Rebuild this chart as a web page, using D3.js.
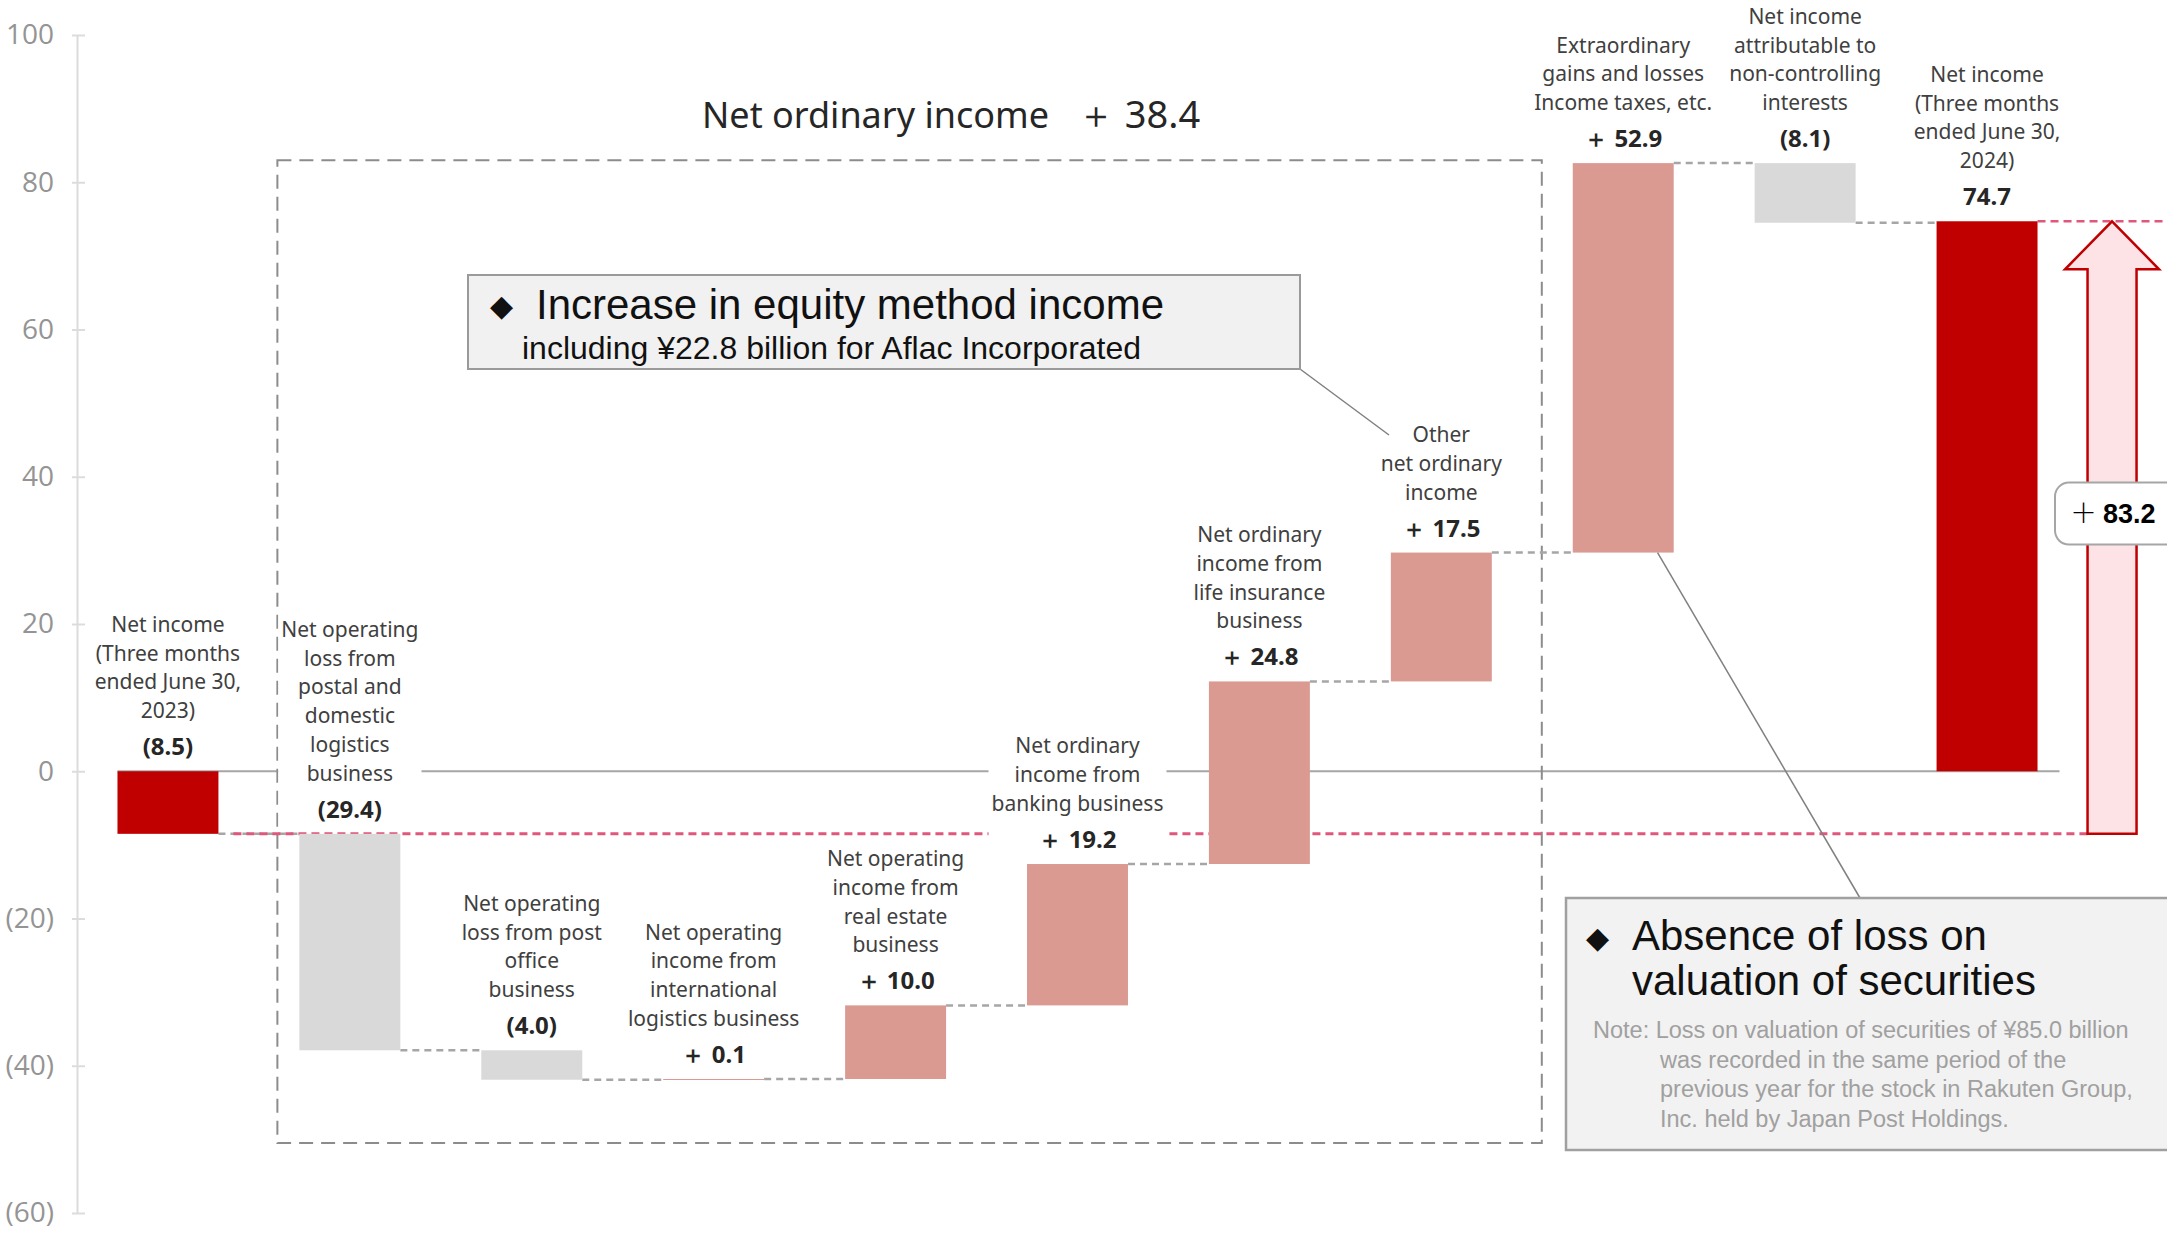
<!DOCTYPE html>
<html><head><meta charset="utf-8">
<script src="https://cdn.jsdelivr.net/npm/d3@7"></script>
<style>body{margin:0;background:#fff}svg{display:block}</style>
</head><body>
<svg id="chart" width="2167" height="1234"></svg>
<script>
// ---------- data ----------
const categories = ["NI2023","Postal","PostOffice","Intl","RealEstate","Banking","Life","Other","Extra","NCI","NI2024"];
const labelLines = [
  ["Net income","(Three months","ended June 30,","2023)"],
  ["Net operating","loss from","postal and","domestic","logistics","business"],
  ["Net operating","loss from post","office","business"],
  ["Net operating","income from","international","logistics business"],
  ["Net operating","income from","real estate","business"],
  ["Net ordinary","income from","banking business"],
  ["Net ordinary","income from","life insurance","business"],
  ["Other","net ordinary","income"],
  ["Extraordinary","gains and losses","Income taxes, etc."],
  ["Net income","attributable to","non-controlling","interests"],
  ["Net income","(Three months","ended June 30,","2024)"]
];
const values = [-8.5, -29.4, -4.0, 0.1, 10.0, 19.2, 24.8, 17.5, 52.9, -8.1, 74.7];
const barTypes = ["total","decrease","decrease","increase","increase","increase","increase","increase","increase","decrease","total"];
const valueLabels = ["(8.5)","(29.4)","(4.0)","＋ 0.1","＋ 10.0","＋ 19.2","＋ 24.8","＋ 17.5","＋ 52.9","(8.1)","74.7"];
const yTicks = [100, 80, 60, 40, 20, 0, -20, -40, -60];
const yTickLabels = ["100","80","60","40","20","0","(20)","(40)","(60)"];
const ordinaryTitle = "Net ordinary income";
const ordinaryValue = "＋ 38.4";
const totalChangeSign = "＋";
const totalChangeValue = "83.2";
const callout1 = ["Increase in equity method income", "including ¥22.8 billion for Aflac Incorporated"];
const callout2Title = ["Absence of loss on", "valuation of securities"];
const callout2Note = ["Note: Loss on valuation of securities of ¥85.0 billion",
  "was recorded in the same period of the",
  "previous year for the stock in Rakuten Group,",
  "Inc. held by Japan Post Holdings."];

// ---------- setup ----------
const svg = d3.select("#chart");
const W = 2167, H = 1234;
const y = d3.scaleLinear().domain([-60, 100]).range([1213, 35]);
const x = d3.scaleBand().domain(categories).range([77, 2078]).paddingInner(0.445).paddingOuter(0.2225);
const bw = x.bandwidth();
const colors = {total: "#C00000", decrease: "#D9D9D9", increase: "#DA9A92"};

// waterfall computation
let run = 0;
const bars = categories.map((c, i) => {
  let y0, y1;
  if (barTypes[i] === "total") { y0 = 0; y1 = values[i]; }
  else { y0 = run; y1 = run + values[i]; }
  run = y1;
  return {c, i, y0, y1, end: y1, type: barTypes[i]};
});

// ---------- axis ----------
const axis = d3.axisLeft(y).tickValues(yTicks).tickFormat((d, i) => yTickLabels[i]).tickSizeOuter(0).tickPadding(17);
const gAxis = svg.append("g").attr("transform", "translate(77,0)").call(axis);
gAxis.select(".domain").attr("stroke", "#DCDCDC").attr("stroke-width", 2);
gAxis.selectAll(".tick line").attr("x1", -5).attr("x2", 8).attr("stroke", "#DCDCDC").attr("stroke-width", 2);
gAxis.selectAll(".tick text").attr("fill", "#949494").style("font-family", "'Open Sans', sans-serif").style("font-size", "28px");

// ---------- zero line ----------
const lastBar = categories[categories.length - 1];
svg.append("line")
  .attr("x1", x(categories[0])).attr("x2", x(lastBar) + bw + 22)
  .attr("y1", y(0)).attr("y2", y(0))
  .attr("stroke", "#A6A6A6").attr("stroke-width", 2);

// ---------- big dashed box (net ordinary income) ----------
const boxL = x(categories[1]) - 22, boxR = x(categories[7]) + bw + 50;
svg.append("rect")
  .attr("x", boxL).attr("y", y(83)).attr("width", boxR - boxL).attr("height", y(-50.5) - y(83))
  .attr("fill", "none").attr("stroke", "#8C8C8C").attr("stroke-width", 2).attr("stroke-dasharray", "14,8");

// ---------- connectors ----------
svg.append("g").selectAll("line").data(bars.slice(0, -1)).join("line")
  .attr("x1", d => x(d.c) + bw).attr("x2", d => x(categories[d.i + 1]))
  .attr("y1", d => y(d.end)).attr("y2", d => y(d.end))
  .attr("stroke", "#A6A6A6").attr("stroke-width", 2.5).attr("stroke-dasharray", "7,5");

// ---------- arrow geometry ----------
const startVal = values[0], endVal = values[values.length - 1];
const ax = x(lastBar) + bw / 2 + 125;
const aTop = y(endVal), aBot = y(startVal);

// red dashed reference lines
svg.append("line").attr("x1", x(categories[0]) + bw + 15).attr("x2", ax - 24)
  .attr("y1", y(startVal)).attr("y2", y(startVal))
  .attr("stroke", "#E0577C").attr("stroke-width", 3).attr("stroke-dasharray", "8,5");
svg.append("line").attr("x1", x(lastBar) + bw).attr("x2", W)
  .attr("y1", y(endVal)).attr("y2", y(endVal))
  .attr("stroke", "#E0577C").attr("stroke-width", 2.5).attr("stroke-dasharray", "8,5");

// ---------- bars ----------
svg.append("g").selectAll("rect").data(bars).join("rect")
  .attr("x", d => x(d.c)).attr("width", bw)
  .attr("y", d => y(Math.max(d.y0, d.y1)))
  .attr("height", d => Math.max(1, Math.abs(y(d.y0) - y(d.y1))))
  .attr("fill", d => colors[d.type]);

// ---------- labels ----------
const lg = svg.append("g");
bars.forEach(d => {
  const g = lg.append("g");
  const cx = x(d.c) + bw / 2;
  const top = y(Math.max(d.y0, d.y1));
  const vBase = top - 16;
  const lines = labelLines[d.i];
  const bg = g.append("rect").attr("fill", "#fff");
  const t = g.append("text").attr("text-anchor", "middle")
    .style("font-family", "'Noto Sans', sans-serif").style("font-size", "21px").attr("fill", "#404040");
  lines.forEach((l, k) => {
    t.append("tspan").attr("x", cx).attr("y", vBase - 37 - (lines.length - 1 - k) * 28.8).text(l);
  });
  g.append("text").attr("x", cx).attr("y", vBase).attr("text-anchor", "middle")
    .style("font-family", "'Noto Sans', sans-serif").style("font-size", "24px").style("font-weight", "bold")
    .attr("fill", "#262626").text(valueLabels[d.i]);
  const bb = g.node().getBBox();
  bg.attr("x", bb.x - 3).attr("y", bb.y - 2).attr("width", bb.width + 6).attr("height", bb.height + 4);
});

// ---------- title of ordinary income box ----------
const tt = svg.append("text").attr("x", 702).attr("y", 128)
  .style("font-family", "'Noto Sans', sans-serif").style("font-size", "36px").attr("fill", "#262626");
tt.append("tspan").text(ordinaryTitle);
tt.append("tspan").attr("dx", 28).style("font-size", "38px").text(ordinaryValue);

// ---------- callout 1 ----------
svg.append("line").attr("x1", 1300).attr("y1", 369).attr("x2", 1389).attr("y2", 435)
  .attr("stroke", "#808080").attr("stroke-width", 1.5);
svg.append("rect").attr("x", 468).attr("y", 275).attr("width", 832).attr("height", 94)
  .attr("fill", "#F1F1F1").attr("stroke", "#9A9A9A").attr("stroke-width", 2);
svg.append("text").attr("x", 490).attr("y", 316)
  .style("font-family", "'DejaVu Sans', sans-serif").style("font-size", "30px").attr("fill", "#111").text("◆");
svg.append("text").attr("x", 536).attr("y", 319)
  .style("font-family", "'Liberation Sans', Arial, sans-serif").style("font-size", "42px").attr("fill", "#111").text(callout1[0]);
svg.append("text").attr("x", 522).attr("y", 359)
  .style("font-family", "'Liberation Sans', Arial, sans-serif").style("font-size", "32px").attr("fill", "#111").text(callout1[1]);

// ---------- callout 2 ----------
const b9 = bars[8];
svg.append("line").attr("x1", x(b9.c) + bw * 0.84).attr("y1", y(b9.y0)).attr("x2", 1860).attr("y2", 898)
  .attr("stroke", "#808080").attr("stroke-width", 1.5);
svg.append("rect").attr("x", 1566).attr("y", 898).attr("width", 640).attr("height", 252)
  .attr("fill", "#F2F2F2").attr("stroke", "#A0A0A0").attr("stroke-width", 2.5);
svg.append("text").attr("x", 1586).attr("y", 948)
  .style("font-family", "'DejaVu Sans', sans-serif").style("font-size", "30px").attr("fill", "#111").text("◆");
callout2Title.forEach((l, k) => {
  svg.append("text").attr("x", 1632).attr("y", 950 + k * 45)
    .style("font-family", "'Liberation Sans', Arial, sans-serif").style("font-size", "42px").attr("fill", "#111").text(l);
});
callout2Note.forEach((l, k) => {
  svg.append("text").attr("x", k === 0 ? 1593 : 1660).attr("y", 1038 + k * 29.5)
    .style("font-family", "'Liberation Sans', Arial, sans-serif").style("font-size", "23.5px").attr("fill", "#A0A0A0").text(l);
});

// ---------- arrow ----------
const headH = 48, shaftHW = 24.5, headHW = 47;
const pts = [[ax, aTop], [ax + headHW, aTop + headH], [ax + shaftHW, aTop + headH], [ax + shaftHW, aBot],
             [ax - shaftHW, aBot], [ax - shaftHW, aTop + headH], [ax - headHW, aTop + headH]];
svg.append("polygon").attr("points", pts.map(p => p.join(",")).join(" "))
  .attr("fill", "#FDE3E6").attr("stroke", "#C00000").attr("stroke-width", 2.5).attr("stroke-linejoin", "miter");

// +83.2 label
const lblY = y((startVal + endVal) / 2) - 14;
svg.append("rect").attr("x", 2055).attr("y", lblY - 31).attr("width", 135).attr("height", 62).attr("rx", 14)
  .attr("fill", "#fff").attr("stroke", "#A6A6A6").attr("stroke-width", 2);
const tl = svg.append("text").attr("x", 2070).attr("y", lblY + 9)
  .style("font-family", "'Liberation Sans', Arial, sans-serif").style("font-size", "27px").attr("fill", "#000");
tl.append("tspan").style("font-family", "'Noto Sans CJK JP', sans-serif").style("font-weight", "300").text(totalChangeSign);
tl.append("tspan").attr("dx", 6).style("font-weight", "bold").text(totalChangeValue);
</script>
</body></html>
